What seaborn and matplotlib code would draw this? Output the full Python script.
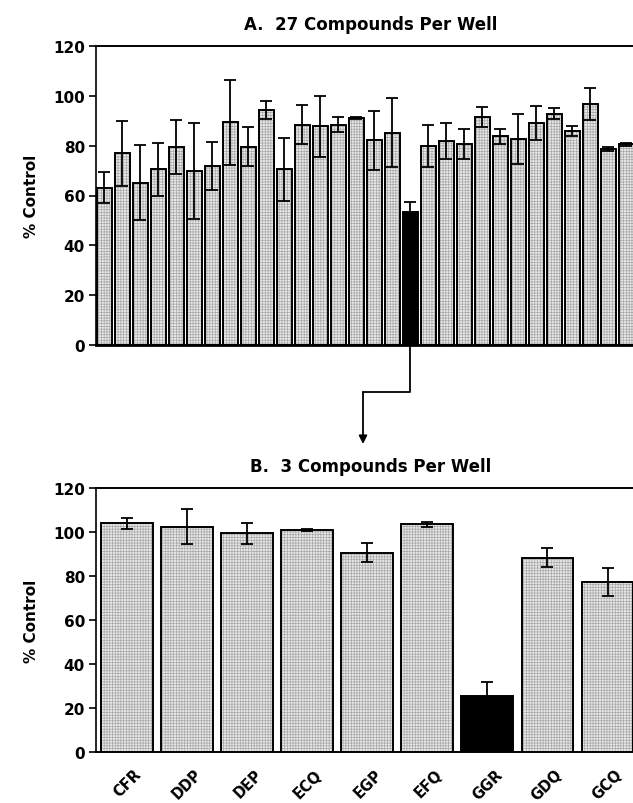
import matplotlib
matplotlib.use("Agg")
import matplotlib.pyplot as plt
import seaborn as sns
import pandas as pd
import numpy as np
from matplotlib.lines import Line2D
from matplotlib.transforms import ScaledTranslation

# ---- data ----
wells_a = [f"W{i+1}" for i in range(30)]
values_a = [63.2, 76.9, 65.2, 70.5, 79.5, 69.9, 71.8, 89.3, 79.5, 94.4,
            70.5, 88.4, 87.7, 88.4, 91.2, 82.1, 85.2, 53.3, 79.9, 82.0,
            80.5, 91.6, 83.7, 82.6, 89.0, 92.9, 85.8, 96.9, 78.7, 80.5]
errors_a = [6.2, 13.1, 15.2, 10.6, 10.8, 19.2, 9.7, 17.2, 7.8, 3.6,
            12.6, 7.8, 12.4, 3.0, 0.4, 11.8, 13.9, 4.2, 8.4, 7.2,
            6.0, 4.1, 3.1, 10.0, 6.8, 2.3, 2.1, 6.4, 0.8, 0.5]
hit_a = "W18"

cats_b = ["CFR", "DDP", "DEP", "ECQ", "EGP", "EFQ", "GGR", "GDQ", "GCQ"]
values_b = [103.9, 102.4, 99.5, 100.9, 90.6, 103.6, 25.5, 88.3, 77.4]
errors_b = [2.6, 8.0, 4.8, 0.3, 4.3, 1.1, 6.3, 4.3, 6.3]
hit_b = "GGR"

title_a = "A.  27 Compounds Per Well"
title_b = "B.  3 Compounds Per Well"
ylabel = "% Control"
yticks = [0, 20, 40, 60, 80, 100, 120]

# ---- style ----
sns.set_style("ticks")
plt.rcParams["font.family"] = ["DejaVu Sans"]
plt.rcParams["font.weight"] = "bold"
plt.rcParams["text.color"] = "black"
plt.rcParams["axes.labelcolor"] = "black"
plt.rcParams["xtick.color"] = "black"
plt.rcParams["ytick.color"] = "black"
plt.rcParams["axes.edgecolor"] = "black"
plt.rcParams["hatch.color"] = "#a8a8a8"
plt.rcParams["hatch.linewidth"] = 0.5

W, H = 633, 804
fig = plt.figure(figsize=(W / 100, H / 100), dpi=100)

def px_axes(left, top, right, bottom):
    return fig.add_axes([left / W, 1 - bottom / H, (right - left) / W, (bottom - top) / H])

ax_a = px_axes(96, 47, 634, 346)
ax_b = px_axes(96, 489, 634, 753)

FILL = "#e8e8e8"

def draw_panel(ax, cats, vals, errs, hit, width, xlim, title, capsize, bottom_lw):
    df = pd.DataFrame({"cat": cats, "val": vals})
    pal = {c: ("black" if c == hit else FILL) for c in cats}
    sns.barplot(data=df, x="cat", y="val", hue="cat", palette=pal, legend=False,
                width=width, linewidth=0, edgecolor="#a8a8a8", saturation=1,
                ax=ax, zorder=2)
    for p, c in zip(ax.patches, cats):
        if c != hit:
            p.set_hatch("++++++")
    sns.barplot(data=df, x="cat", y="val", fill=False, width=width,
                linewidth=1.4, edgecolor="black", ax=ax, zorder=3)
    ax.errorbar(np.arange(len(cats)), vals, yerr=errs, fmt="none",
                ecolor="black", elinewidth=1.3, capsize=capsize, capthick=1.3,
                zorder=4)
    ax.set_xlim(*xlim)
    ax.set_ylim(0, 120)
    ax.set_yticks(yticks)
    ax.set_ylabel(ylabel, fontsize=11, fontweight="bold", labelpad=10)
    ax.set_xlabel("")
    ax.tick_params(axis="y", direction="out", length=5, width=1.2,
                   labelsize=11, pad=3)
    for lab in ax.get_yticklabels():
        lab.set_fontweight("bold")
    ax.spines["right"].set_visible(False)
    ax.spines["top"].set_visible(True)
    ax.spines["top"].set_linewidth(1.4)
    ax.spines["left"].set_linewidth(1.2)
    ax.spines["bottom"].set_linewidth(bottom_lw)
    ax.set_title(title, fontsize=12, fontweight="bold", pad=12, x=0.51)

draw_panel(ax_a, wells_a, values_a, errors_a, hit_a, 0.84, (-0.456, 29.43),
           title_a, 4.5, 2.0)
ax_a.set_xticks([])

draw_panel(ax_b, cats_b, values_b, errors_b, hit_b, 0.86, (-0.51, 8.44),
           title_b, 4.5, 1.4)
ax_b.tick_params(axis="x", length=0, pad=14)
offset = ScaledTranslation(9 / 72, 0, fig.dpi_scale_trans)
for lab in ax_b.get_xticklabels():
    lab.set_rotation(45)
    lab.set_ha("right")
    lab.set_va("center")
    lab.set_rotation_mode("anchor")
    lab.set_fontsize(10.5)
    lab.set_fontweight("bold")
    lab.set_transform(lab.get_transform() + offset)

# ---- connecting arrow from the hit well to panel B ----
fig.canvas.draw()
hit_idx = wells_a.index(hit_a)
x0_disp = ax_a.transData.transform((hit_idx, 0))[0]
y0_disp = ax_a.transAxes.transform((0, 0))[1]
x0 = x0_disp / W
y0 = y0_disp / H
y_mid = 1 - 393 / H
x1 = 363 / W
y_end = 1 - 445 / H
fig.add_artist(Line2D([x0, x0, x1, x1], [y0, y_mid, y_mid, y_mid],
                      transform=fig.transFigure, color="black", lw=1.3))
ax_a.annotate("", xy=(x1, y_end), xytext=(x1, y_mid), xycoords="figure fraction",
              textcoords="figure fraction",
              arrowprops=dict(arrowstyle="-|>", lw=1.3, color="black",
                              mutation_scale=12, shrinkA=0, shrinkB=0))

fig.savefig("out.png", dpi=100)
